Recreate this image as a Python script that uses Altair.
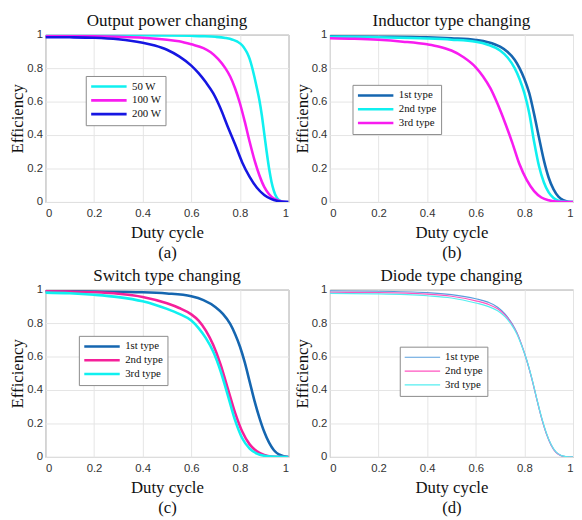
import altair as alt
import pandas as pd

# ---------------- data ----------------
# (a) Output power changing
a_names = ["50 W", "100 W", "200 W"]
a_colors = ["#10F0F0", "#F81CF0", "#1616E2"]
a50_x = [0, 0.2, 0.4, 0.5, 0.6, 0.65, 0.7, 0.74, 0.77, 0.79, 0.81, 0.82, 0.83, 0.84, 0.85, 0.86, 0.87, 0.88, 0.89, 0.9, 0.91, 0.92, 0.93, 0.94, 0.95, 0.96, 0.97, 0.98, 1.0]
a50_y = [0.998, 0.997, 0.996, 0.995, 0.993, 0.991, 0.987, 0.98, 0.97, 0.958, 0.935, 0.915, 0.89, 0.855, 0.805, 0.745, 0.68, 0.61, 0.52, 0.41, 0.3, 0.2, 0.12, 0.065, 0.03, 0.012, 0.004, 0.001, 0]
a100_x = [0, 0.2, 0.3, 0.4, 0.5, 0.55, 0.6, 0.65, 0.68, 0.71, 0.74, 0.76, 0.78, 0.8, 0.82, 0.84, 0.86, 0.88, 0.9, 0.92, 0.94, 0.96, 0.98, 1.0]
a100_y = [0.992, 0.99, 0.987, 0.982, 0.97, 0.96, 0.942, 0.92, 0.895, 0.855, 0.8, 0.75, 0.68, 0.59, 0.48, 0.36, 0.25, 0.16, 0.09, 0.046, 0.02, 0.007, 0.0015, 0]
a200_x = [0, 0.1, 0.2, 0.3, 0.35, 0.4, 0.45, 0.5, 0.55, 0.6, 0.63, 0.66, 0.69, 0.72, 0.75, 0.78, 0.81, 0.84, 0.87, 0.9, 0.93, 0.96, 1.0]
a200_y = [0.985, 0.984, 0.981, 0.972, 0.964, 0.952, 0.935, 0.91, 0.87, 0.815, 0.77, 0.715, 0.65, 0.56, 0.45, 0.345, 0.235, 0.15, 0.085, 0.042, 0.017, 0.005, 0]

# (b) Inductor type changing
b_names = ["1st type", "2nd type", "3rd type"]
b_colors = ["#1566B0", "#10F0F0", "#F81CF0"]
b1_x = [0, 0.2, 0.4, 0.5, 0.6, 0.65, 0.7, 0.73, 0.76, 0.78, 0.8, 0.82, 0.84, 0.86, 0.88, 0.9, 0.92, 0.94, 0.96, 0.98, 1.0]
b1_y = [0.99, 0.988, 0.984, 0.978, 0.968, 0.955, 0.928, 0.898, 0.85, 0.8, 0.735, 0.65, 0.525, 0.385, 0.25, 0.145, 0.075, 0.032, 0.011, 0.002, 0]
b2_x = [0, 0.2, 0.4, 0.5, 0.6, 0.65, 0.7, 0.73, 0.76, 0.78, 0.8, 0.82, 0.84, 0.86, 0.88, 0.9, 0.92, 0.94, 0.96, 1.0]
b2_y = [0.988, 0.984, 0.977, 0.97, 0.958, 0.94, 0.905, 0.865, 0.8, 0.735, 0.65, 0.53, 0.36, 0.215, 0.118, 0.057, 0.024, 0.008, 0.002, 0]
b3_x = [0, 0.1, 0.2, 0.3, 0.4, 0.45, 0.5, 0.55, 0.6, 0.63, 0.66, 0.69, 0.72, 0.75, 0.78, 0.81, 0.84, 0.87, 0.9, 0.93, 1.0]
b3_y = [0.978, 0.975, 0.969, 0.958, 0.942, 0.928, 0.905, 0.865, 0.805, 0.75, 0.68, 0.585, 0.475, 0.355, 0.225, 0.13, 0.065, 0.027, 0.01, 0.003, 0]

# (c) Switch type changing
c_names = ["1st type", "2nd type", "3rd type"]
c_colors = ["#1566B0", "#F5209A", "#10F0F0"]
c1_x = [0, 0.2, 0.4, 0.5, 0.6, 0.65, 0.7, 0.73, 0.76, 0.78, 0.8, 0.82, 0.84, 0.86, 0.88, 0.9, 0.92, 0.94, 0.96, 0.98, 1.0]
c1_y = [0.99, 0.988, 0.984, 0.977, 0.96, 0.937, 0.895, 0.855, 0.795, 0.735, 0.66, 0.565, 0.45, 0.335, 0.235, 0.15, 0.085, 0.04, 0.015, 0.004, 0]
c2_x = [0, 0.1, 0.2, 0.3, 0.4, 0.5, 0.55, 0.6, 0.63, 0.66, 0.69, 0.72, 0.75, 0.78, 0.81, 0.84, 0.87, 0.9, 0.93, 1.0]
c2_y = [0.99, 0.988, 0.984, 0.975, 0.956, 0.918, 0.89, 0.852, 0.815, 0.755, 0.67, 0.555, 0.41, 0.265, 0.15, 0.075, 0.033, 0.012, 0.003, 0]
c3_x = [0, 0.1, 0.2, 0.3, 0.4, 0.45, 0.5, 0.55, 0.6, 0.63, 0.66, 0.69, 0.72, 0.75, 0.78, 0.81, 0.84, 0.87, 0.9, 0.93, 1.0]
c3_y = [0.982, 0.978, 0.969, 0.955, 0.93, 0.91, 0.885, 0.855, 0.815, 0.77, 0.71, 0.63, 0.515, 0.37, 0.22, 0.11, 0.05, 0.02, 0.007, 0.002, 0]

# (d) Diode type changing
d_names = ["1st type", "2nd type", "3rd type"]
d_colors = ["#5A9FDD", "#FF55C0", "#55EEF0"]
d_x = [0, 0.2, 0.4, 0.5, 0.6, 0.65, 0.69, 0.72, 0.75, 0.77, 0.79, 0.81, 0.83, 0.85, 0.87, 0.89, 0.91, 0.93, 0.95, 0.97, 1.0]
d1_y = [0.992, 0.99, 0.982, 0.97, 0.945, 0.925, 0.895, 0.855, 0.795, 0.74, 0.665, 0.575, 0.47, 0.35, 0.235, 0.14, 0.07, 0.027, 0.008, 0.002, 0]
d2_y = [0.984, 0.982, 0.973, 0.96, 0.933, 0.913, 0.885, 0.848, 0.79, 0.737, 0.663, 0.576, 0.472, 0.352, 0.237, 0.142, 0.072, 0.028, 0.009, 0.002, 0]
d3_y = [0.977, 0.974, 0.963, 0.95, 0.92, 0.9, 0.873, 0.838, 0.783, 0.732, 0.66, 0.578, 0.474, 0.355, 0.24, 0.145, 0.074, 0.03, 0.01, 0.002, 0]

ticks = [0, 0.2, 0.4, 0.6, 0.8, 1]

SERIF = "Liberation Serif"
SANS = "Liberation Sans"
W, H = 247, 170


def panel(title, letter, names, colors, series, lx, ly, sw):
    rows = []
    for k, (name, (xs, ys)) in enumerate(zip(names, series)):
        for x, y in zip(xs, ys):
            rows.append({"duty": x, "eff": y, "series": name, "k": k})
    df = pd.DataFrame(rows)
    return (
        alt.Chart(df, title=alt.Title(title, frame="group"))
        .mark_line(interpolate="monotone", strokeWidth=sw, clip=True)
        .encode(
            x=alt.X("duty:Q", scale=alt.Scale(domain=[0, 1], nice=False),
                    axis=alt.Axis(values=ticks, format="~g", title=["Duty cycle", letter])),
            y=alt.Y("eff:Q", scale=alt.Scale(domain=[0, 1], nice=False),
                    axis=alt.Axis(values=ticks, format="~g", title="Efficiency")),
            color=alt.Color("series:N", scale=alt.Scale(domain=names, range=colors),
                            legend=alt.Legend(title=None, orient="none", legendX=lx, legendY=ly,
                                              symbolStrokeWidth=sw)),
            detail="k:N",
        )
        .properties(width=W, height=H)
    )


pa = panel("Output power changing", "(a)", a_names, a_colors,
           [(a50_x, a50_y), (a100_x, a100_y), (a200_x, a200_y)], 41, 42, 2.6)
pb = panel("Inductor type changing", "(b)", b_names, b_colors,
           [(b1_x, b1_y), (b2_x, b2_y), (b3_x, b3_y)], 23, 51, 2.6)
pc = panel("Switch type changing", "(c)", c_names, c_colors,
           [(c1_x, c1_y), (c2_x, c2_y), (c3_x, c3_y)], 34, 47, 2.6)
pd_ = panel("Diode type changing", "(d)", d_names, d_colors,
            [(d_x, d1_y), (d_x, d2_y), (d_x, d3_y)], 71, 58, 1.2)

top = alt.hconcat(pa, pb, spacing=3).resolve_scale(color="independent")
bottom = alt.hconcat(pc, pd_, spacing=3).resolve_scale(color="independent")

chart = (
    alt.vconcat(top, bottom, spacing=6)
    .resolve_scale(color="independent")
    .properties(padding={"left": 0, "top": 0, "right": 0, "bottom": 0})
    .configure_view(stroke="#8a8a8a", strokeWidth=1)
    .configure_axis(
        grid=True, gridColor="#e4e4e4", gridWidth=1,
        domain=False, ticks=False,
        labelFont=SANS, labelFontSize=11.5, labelColor="#333333",
        titleFont=SERIF, titleFontSize=17, titleFontWeight="normal", titleColor="#111111",
    )
    .configure_axisX(labelPadding=6, titlePadding=6, titleLineHeight=20)
    .configure_axisY(labelPadding=3, titlePadding=0)
    .configure_title(font=SERIF, fontSize=17.3, fontWeight="normal", color="#111111", offset=-1)
    .configure_legend(
        labelFont=SERIF, labelFontSize=11, labelColor="#111111",
        symbolType="stroke", symbolSize=1296, clipHeight=13.5, rowPadding=0,
        padding=4, labelOffset=4, strokeColor="#8a8a8a", fillColor="white",
        cornerRadius=0,
    )
)

chart.save("out.html", embed_options={"renderer": "svg", "actions": False})
